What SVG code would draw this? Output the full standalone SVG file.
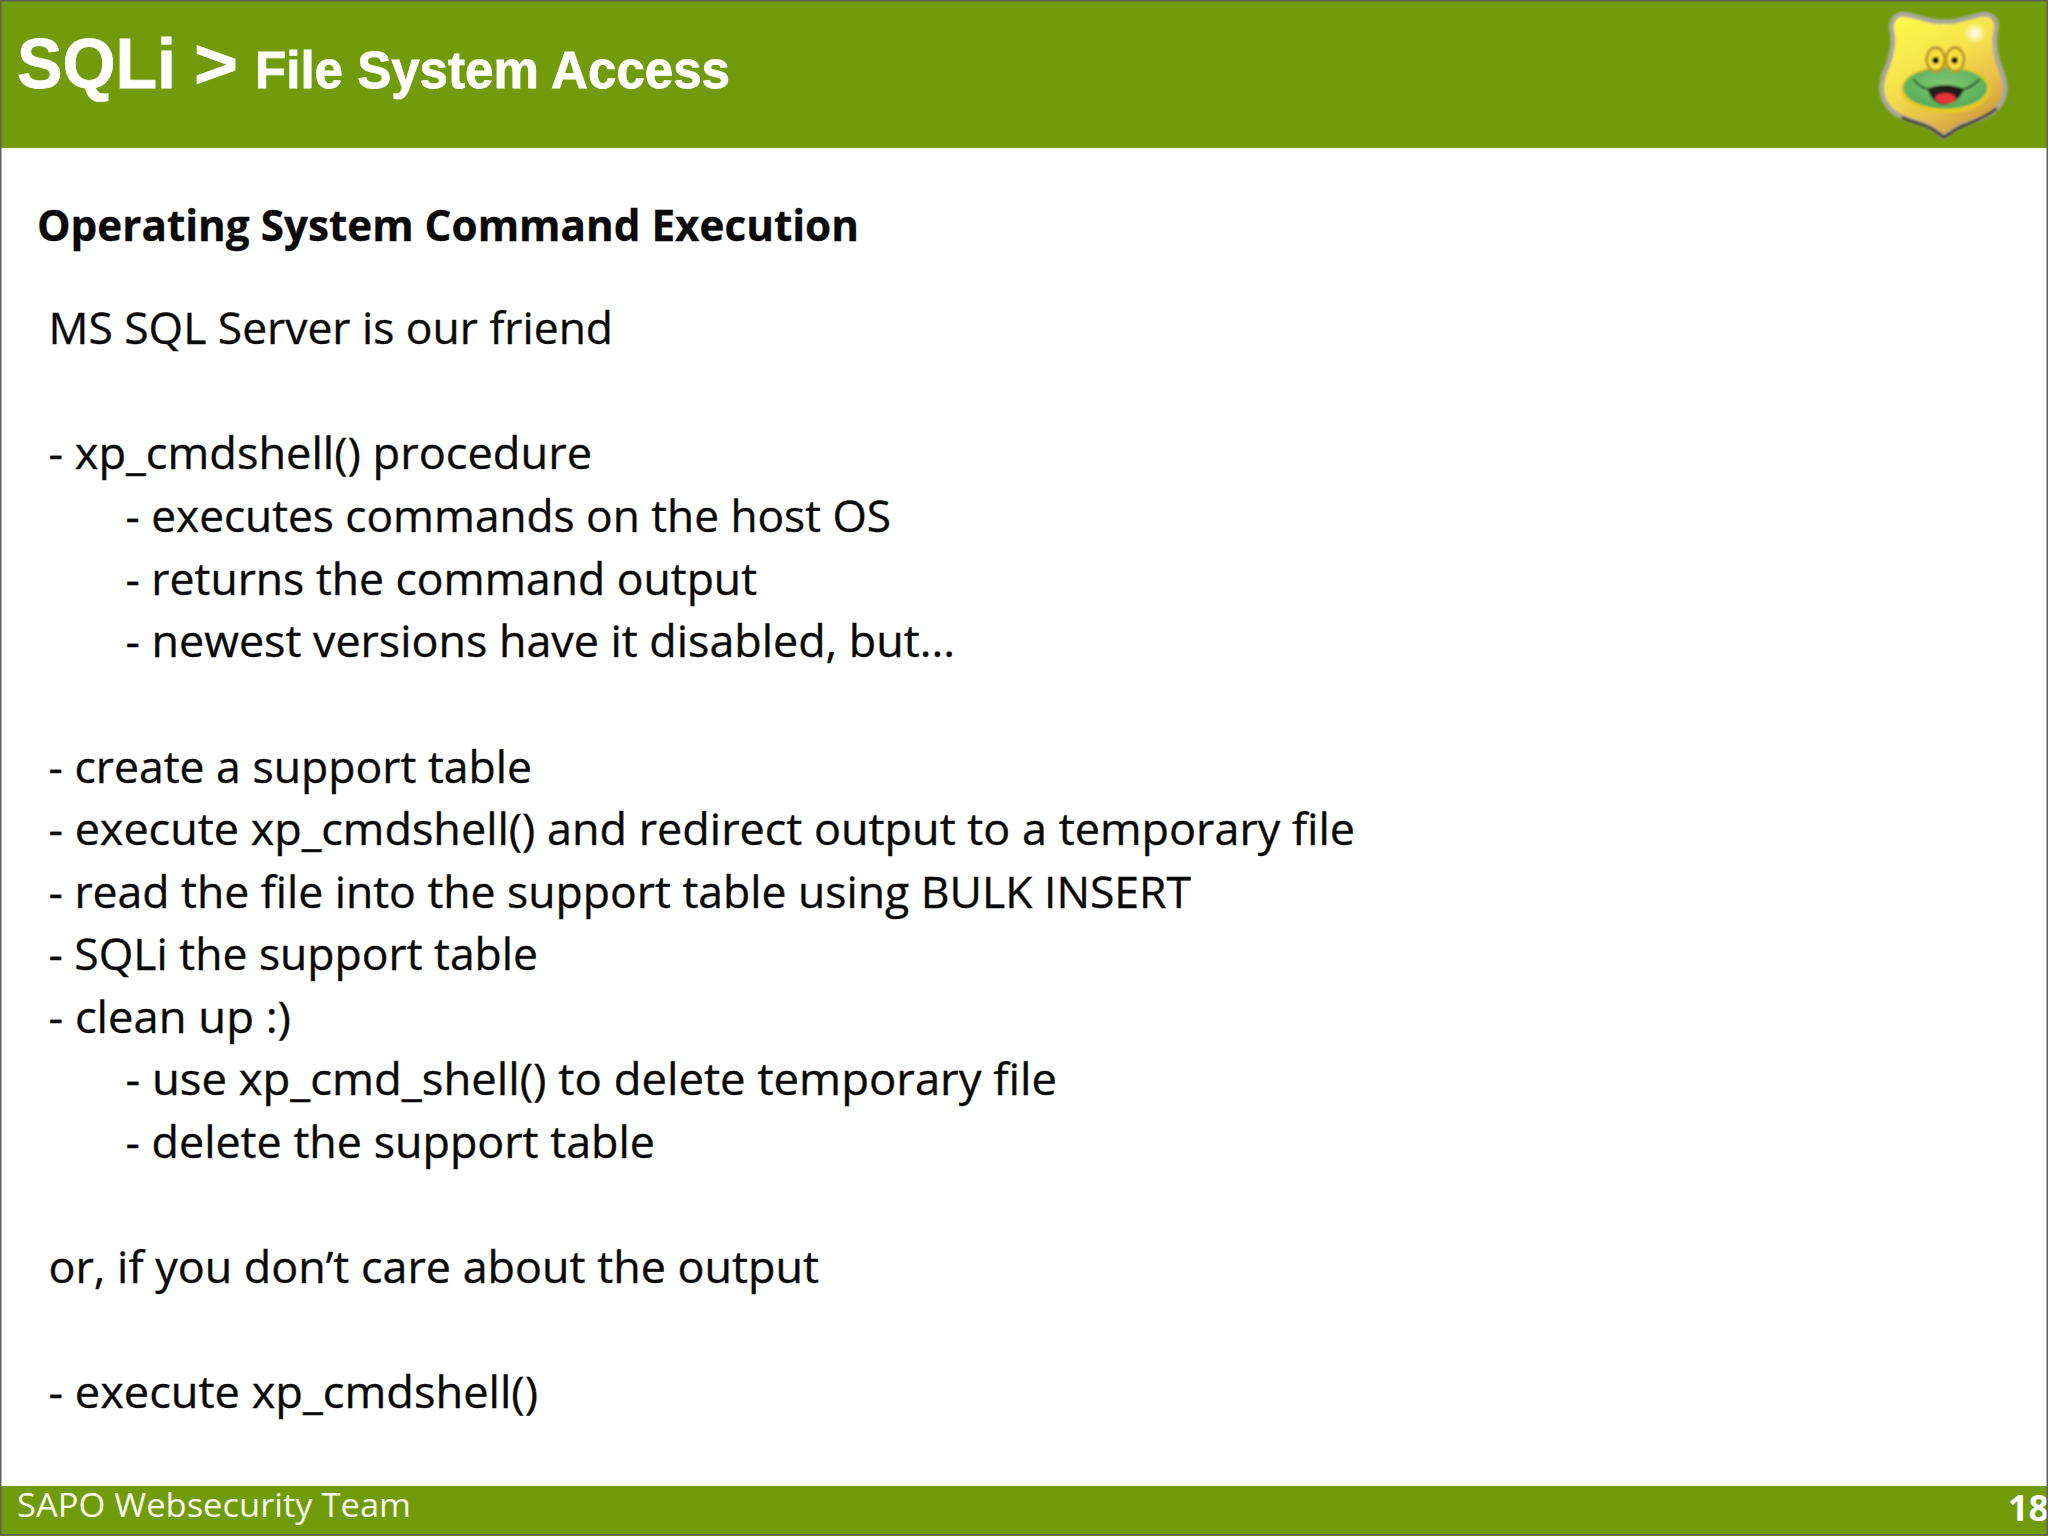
<svg xmlns="http://www.w3.org/2000/svg" width="2048" height="1536" viewBox="0 0 2048 1536">
<style>
.body{font-family:"Open Sans","Noto Sans",sans-serif;font-size:43px;fill:#0a0a0a;stroke:#0a0a0a;stroke-width:0.35px}
.head{font-family:"Liberation Sans",Arial,sans-serif;font-weight:700;fill:#fff;stroke:#fff;stroke-width:0.8px}
.bar{fill:#729b0c}
</style>
<defs>
<linearGradient id="gold" x1="0.2" y1="0" x2="0.8" y2="1">
<stop offset="0" stop-color="#fdf84a"/><stop offset="0.4" stop-color="#f6e24c"/><stop offset="0.72" stop-color="#e6bb48"/><stop offset="1" stop-color="#c48f34"/>
</linearGradient>
<radialGradient id="face" cx="0.5" cy="0.4" r="0.6"><stop offset="0" stop-color="#82c772"/><stop offset="1" stop-color="#55ad58"/></radialGradient>
<radialGradient id="shine"><stop offset="0" stop-color="#fff"/><stop offset="1" stop-color="#fff" stop-opacity="0"/></radialGradient>
<filter id="soft" x="-10%" y="-10%" width="120%" height="120%"><feGaussianBlur stdDeviation="3.2"/></filter>
</defs>
<rect width="2048" height="1536" fill="#fff"/>
<g id="header">
<rect class="bar" x="0" y="0" width="2048" height="148"/>
<text class="head" x="17" y="88" font-size="70" textLength="159" lengthAdjust="spacingAndGlyphs">SQLi</text>
<text class="head" x="194" y="88" font-size="70" textLength="44" lengthAdjust="spacingAndGlyphs">&gt;</text>
<text class="head" x="255" y="88" font-size="51" textLength="475" lengthAdjust="spacingAndGlyphs">File System Access</text>
</g>
<g id="logo" transform="translate(1820 0) scale(0.33333)" filter="url(#soft)">
<path d="M245 42C290 45 340 72 372 64C405 72 460 45 495 42C520 45 535 65 528 90C520 130 525 170 545 215C565 265 555 310 520 335C480 365 420 370 395 395L372 412L350 395C325 370 265 365 225 340C185 310 175 265 195 215C215 170 225 130 215 90C210 65 225 45 245 42Z" fill="url(#gold)" stroke="#a9a79a" stroke-width="15"/>
<path d="M245 352C290 372 330 375 350 397L372 412L395 397C420 372 480 368 530 325" fill="none" stroke="#3f3f30" stroke-width="9"/>
<ellipse cx="465" cy="100" rx="34" ry="32" fill="url(#shine)"/>
<ellipse cx="378" cy="268" rx="135" ry="72" fill="#e8c820"/>
<ellipse cx="376" cy="264" rx="126" ry="62" fill="url(#face)"/>
<ellipse cx="347" cy="178" rx="31" ry="40" fill="#b9962a"/>
<ellipse cx="405" cy="178" rx="31" ry="40" fill="#b9962a"/>
<ellipse cx="347" cy="178" rx="23" ry="31" fill="#f6e03c"/>
<ellipse cx="405" cy="178" rx="23" ry="31" fill="#f6e03c"/>
<circle cx="347" cy="181" r="10" fill="#111"/>
<circle cx="404" cy="181" r="10" fill="#111"/>
<path d="M280 238C300 262 320 270 338 268C365 256 395 256 420 270C440 268 460 258 478 238" fill="none" stroke="#1c3a1c" stroke-width="5"/>
<path d="M322 266C355 252 400 252 432 268C420 298 395 314 372 314C350 314 332 296 322 266Z" fill="#231c1c"/>
<ellipse cx="376" cy="295" rx="31" ry="16" fill="#e8303a"/>
</g>
<g id="content">
<text class="body" x="37" y="241" font-weight="700" textLength="822" lengthAdjust="spacingAndGlyphs">Operating System Command Execution</text>
<text class="body" x="48.5" y="344" textLength="564.5" lengthAdjust="spacingAndGlyphs">MS SQL Server is our friend</text>
<text class="body" x="48.5" y="469" textLength="543.5" lengthAdjust="spacingAndGlyphs">- xp_cmdshell() procedure</text>
<text class="body" x="125.5" y="532" textLength="765.5" lengthAdjust="spacingAndGlyphs">- executes commands on the host OS</text>
<text class="body" x="125.5" y="594.5" textLength="631.5" lengthAdjust="spacingAndGlyphs">- returns the command output</text>
<text class="body" x="125.5" y="657" textLength="829.5" lengthAdjust="spacingAndGlyphs">- newest versions have it disabled, but...</text>
<text class="body" x="48.5" y="782.5" textLength="483.5" lengthAdjust="spacingAndGlyphs">- create a support table</text>
<text class="body" x="48.5" y="845" textLength="1306.5" lengthAdjust="spacingAndGlyphs">- execute xp_cmdshell() and redirect output to a temporary file</text>
<text class="body" x="48.5" y="907.5" textLength="1142.5" lengthAdjust="spacingAndGlyphs">- read the file into the support table using BULK INSERT</text>
<text class="body" x="48.5" y="970" textLength="489.5" lengthAdjust="spacingAndGlyphs">- SQLi the support table</text>
<text class="body" x="48.5" y="1032.5" textLength="242.5" lengthAdjust="spacingAndGlyphs">- clean up :)</text>
<text class="body" x="125.5" y="1095" textLength="931.5" lengthAdjust="spacingAndGlyphs">- use xp_cmd_shell() to delete temporary file</text>
<text class="body" x="125.5" y="1157.5" textLength="529.5" lengthAdjust="spacingAndGlyphs">- delete the support table</text>
<text class="body" x="48.5" y="1283" textLength="770.5" lengthAdjust="spacingAndGlyphs">or, if you don’t care about the output</text>
<text class="body" x="48.5" y="1408" textLength="489.5" lengthAdjust="spacingAndGlyphs">- execute xp_cmdshell()</text>
</g>
<g id="footer">
<rect class="bar" x="0" y="1486" width="2048" height="50"/>
<text x="17" y="1517" font-family="'Open Sans','Noto Sans',sans-serif" font-size="33" fill="#f4f8ea" textLength="394" lengthAdjust="spacingAndGlyphs">SAPO Websecurity Team</text>
<text x="2008" y="1521" font-family="'Open Sans','Noto Sans',sans-serif" font-size="35" font-weight="700" fill="#fff" textLength="41" lengthAdjust="spacingAndGlyphs">18</text>
</g>
<rect id="frame" x="0.75" y="0.75" width="2046.5" height="1534" fill="none" stroke="#5c6058" stroke-width="1.5"/>
</svg>
